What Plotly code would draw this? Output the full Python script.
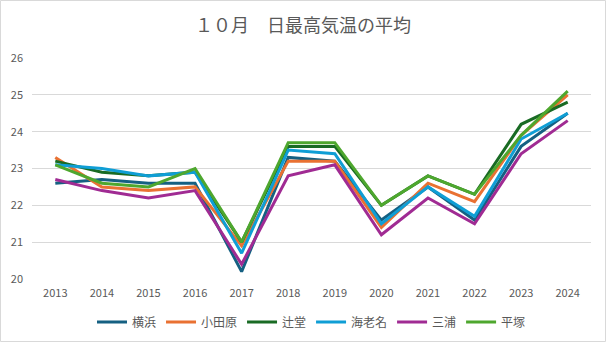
import plotly.graph_objects as go

years = ["2013", "2014", "2015", "2016", "2017", "2018", "2019", "2020", "2021", "2022", "2023", "2024"]
yokohama = [22.6, 22.7, 22.6, 22.6, 20.2, 23.3, 23.2, 21.6, 22.5, 21.6, 23.6, 24.5]
odawara = [23.3, 22.5, 22.4, 22.5, 20.9, 23.2, 23.2, 21.4, 22.6, 22.1, 23.9, 25.0]
tsujido = [23.2, 22.9, 22.8, 22.9, 21.0, 23.6, 23.6, 22.0, 22.8, 22.3, 24.2, 24.8]
ebina = [23.1, 23.0, 22.8, 22.9, 20.7, 23.5, 23.4, 21.5, 22.5, 21.7, 23.8, 24.5]
miura = [22.7, 22.4, 22.2, 22.4, 20.4, 22.8, 23.1, 21.2, 22.2, 21.5, 23.4, 24.3]
hiratsuka = [23.1, 22.6, 22.5, 23.0, 21.0, 23.7, 23.7, 22.0, 22.8, 22.3, 23.9, 25.1]

series = [
    ("横浜", yokohama, "#156082"),
    ("小田原", odawara, "#E97132"),
    ("辻堂", tsujido, "#196B24"),
    ("海老名", ebina, "#0F9ED5"),
    ("三浦", miura, "#A02B93"),
    ("平塚", hiratsuka, "#4EA72E"),
]

fig = go.Figure()
for name, vals, col in series:
    fig.add_trace(go.Scatter(x=years, y=vals, name=name, mode="lines",
                             line=dict(color=col, width=3)))

W, H = 606, 342
L, R, T, B = 32, 15, 58, 63
pw, ph = W - L - R, H - T - B

font = "Noto Sans CJK JP, Noto Sans, sans-serif"
fig.update_layout(
    width=W, height=H,
    margin=dict(l=L, r=R, t=T, b=B, autoexpand=False),
    paper_bgcolor="white", plot_bgcolor="white",
    font=dict(family=font, color="#595959", size=11),
    title=dict(text="１０月　日最高気温の平均", x=0.5, xanchor="center",
               y=1 - 26 / H, yanchor="middle",
               font=dict(size=18, color="#595959", family=font)),
    xaxis=dict(type="category", range=[-0.5, 11.5], showgrid=False,
               showline=False, ticks="", ticklabelstandoff=6,
               tickfont=dict(size=11, color="#595959")),
    yaxis=dict(range=[20, 26], dtick=1, showgrid=True, gridcolor="#D9D9D9",
               gridwidth=1, zeroline=False, showline=False, ticks="",
               ticklabelstandoff=8,
               tickfont=dict(size=11, color="#595959")),
    legend=dict(orientation="h", x=0.5, xanchor="center", y=-(322 - 279) / ph,
                yanchor="middle", font=dict(size=12, color="#595959", family=font),
                itemwidth=30, tracegroupgap=0),
    showlegend=True,
    shapes=[dict(type="rect", xref="paper", yref="paper",
                 x0=-(L - 0.5) / pw, x1=1 + (R - 0.5) / pw,
                 y0=-(B - 0.5) / ph, y1=1 + (T - 0.5) / ph,
                 line=dict(color="#D9D9D9", width=1), layer="below")],
)

fig.write_html("out.html")
